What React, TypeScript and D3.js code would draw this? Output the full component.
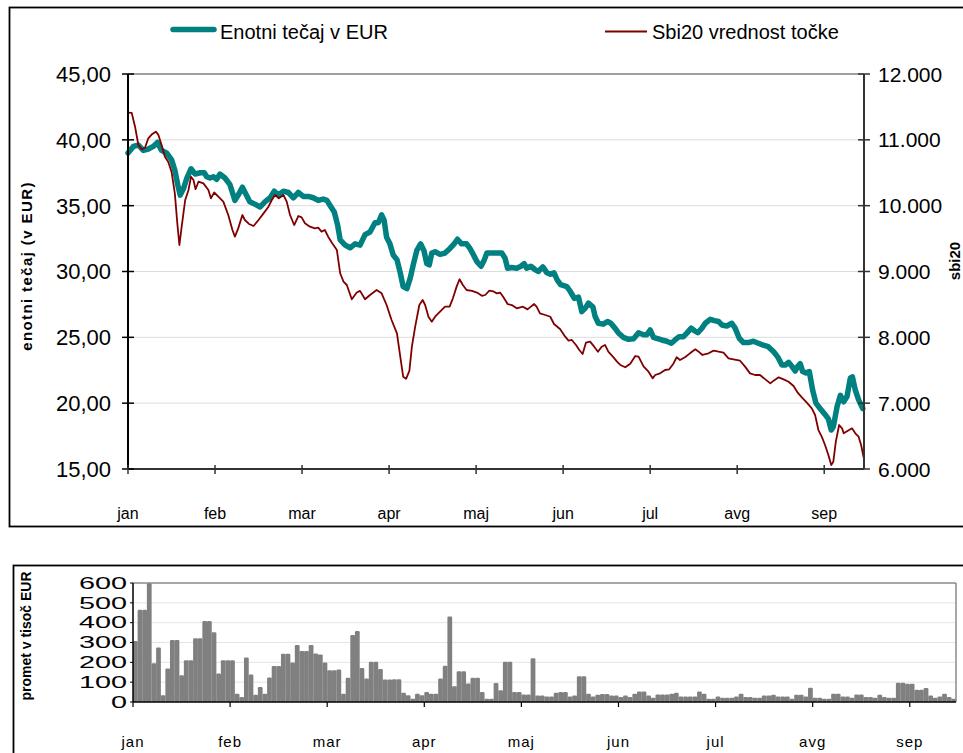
import React from 'react';
import * as d3 from 'd3';

// month labels, 21 trading days per month
const months = ['jan', 'feb', 'mar', 'apr', 'maj', 'jun', 'jul', 'avg', 'sep'];
const daysPerMonth = 21;

// [trading day, value]
const enotniTecaj: [number, number][] = [
  [0, 39.0], [1.3, 39.5], [2.5, 39.6], [3.7, 39.2], [4.9, 39.3], [6.1, 39.5], [7.1, 39.8], [8.1, 39.2],
  [9.3, 39.0], [10.5, 38.5], [11.3, 37.7], [12.0, 36.6], [12.6, 35.8], [13.4, 36.3], [14.2, 37.1], [15.2, 37.8],
  [16.2, 37.4], [17.4, 37.5], [18.4, 37.5], [19.0, 37.2], [19.8, 37.1], [20.6, 37.2], [21.4, 37.0], [22.2, 37.4],
  [23.4, 37.1], [24.6, 36.6], [25.8, 35.4], [26.6, 35.8], [27.6, 36.4], [28.4, 35.9], [29.4, 35.3], [30.7, 35.1],
  [31.9, 34.9], [33.1, 35.3], [34.3, 35.6], [35.3, 36.1], [36.3, 35.8], [37.5, 36.1], [38.7, 36.0], [39.9, 35.6],
  [41.1, 36.0], [42.3, 35.7], [43.5, 35.7], [44.7, 35.6], [45.9, 35.4], [47.1, 35.5], [48.0, 35.4], [48.8, 35.0],
  [49.8, 34.5], [50.6, 33.5], [51.2, 32.4], [52.4, 32.0], [53.6, 31.8], [54.8, 32.1], [56.0, 32.0], [57.2, 32.8],
  [58.4, 33.0], [59.6, 33.7], [60.4, 33.7], [61.2, 34.3], [61.8, 33.9], [62.4, 32.6], [63.2, 32.1], [64.0, 31.25],
  [64.9, 30.9], [65.7, 29.9], [66.4, 28.85], [67.3, 28.7], [68.1, 29.5], [68.9, 30.6], [69.7, 31.6], [70.6, 32.1],
  [71.4, 31.6], [72.1, 30.6], [72.7, 30.5], [73.3, 31.4], [74.1, 31.5], [75.3, 31.3], [76.5, 31.4], [77.7, 31.75],
  [78.7, 32.1], [79.5, 32.45], [80.5, 32.1], [81.7, 32.1], [82.5, 31.75], [83.3, 31.3], [84.2, 30.75], [85.2, 30.4],
  [86.0, 30.9], [86.6, 31.4], [87.8, 31.4], [89.0, 31.4], [90.2, 31.4], [91.0, 31.0], [91.6, 30.25], [92.6, 30.3],
  [93.8, 30.25], [94.8, 30.4], [95.6, 30.6], [96.2, 30.25], [97.2, 30.4], [98.2, 30.15], [99.0, 30.0], [100.1, 30.35],
  [101.1, 29.9], [101.9, 29.8], [102.8, 29.9], [103.6, 29.35], [104.4, 29.0], [105.9, 28.85], [106.7, 28.5], [107.7, 27.96],
  [108.7, 28.05], [109.5, 26.95], [110.3, 27.2], [111.1, 27.6], [112.2, 27.3], [112.7, 26.6], [113.5, 26.07], [114.7, 26.0],
  [115.7, 26.2], [116.5, 26.07], [117.5, 25.7], [118.3, 25.35], [119.5, 25.0], [120.8, 24.85], [122.0, 24.9], [123.2, 25.35],
  [124.4, 25.2], [125.2, 25.2], [126.0, 25.56], [126.8, 25.0], [127.8, 24.9], [128.8, 24.8], [130.0, 24.7], [131.1, 24.55],
  [132.0, 24.8], [133.0, 25.05], [134.0, 25.05], [134.8, 25.3], [135.9, 25.7], [136.7, 25.5], [137.5, 25.35], [138.5, 25.7],
  [139.3, 26.07], [140.5, 26.37], [141.5, 26.27], [142.5, 26.2], [143.3, 25.94], [144.5, 25.86], [145.7, 26.07], [146.5, 25.7],
  [147.5, 24.93], [148.5, 24.6], [149.7, 24.6], [150.9, 24.7], [152.1, 24.55], [153.3, 24.4], [154.5, 24.29], [155.8, 23.9],
  [156.8, 23.5], [157.8, 22.9], [158.6, 22.9], [159.4, 23.1], [160.2, 22.8], [161.0, 22.44], [161.6, 22.8], [162.2, 23.0],
  [162.8, 22.4], [163.6, 22.3], [164.4, 22.4], [165.2, 21.0], [166.0, 20.0], [167.0, 19.6], [168.1, 19.18], [169.0, 18.8],
  [169.7, 17.96], [170.2, 18.2], [171.1, 19.73], [171.9, 20.6], [172.7, 20.1], [173.5, 20.5], [174.3, 21.9], [174.8, 22.0],
  [175.5, 21.0], [176.3, 20.25], [177.3, 19.6],
];

const sbi20: [number, number][] = [
  [0, 11412], [0.9, 11410], [1.7, 11200], [2.5, 10921], [3.3, 10856], [4.1, 10880], [4.9, 11023], [5.7, 11080],
  [6.7, 11124], [7.3, 11080], [8.1, 10921], [8.9, 10744], [9.7, 10668], [10.5, 10516], [11.3, 10187], [11.9, 9732],
  [12.4, 9402], [13.0, 9706], [13.8, 10086], [14.6, 10238], [15.2, 10440], [15.8, 10390], [16.3, 10250], [17.0, 10364],
  [18.2, 10339], [19.4, 10238], [20.0, 10112], [20.8, 10200], [21.8, 10137], [23.0, 10061], [24.2, 9858], [25.2, 9630],
  [25.8, 9529], [26.6, 9655], [27.6, 9858], [28.2, 9782], [29.2, 9722], [30.3, 9691], [31.5, 9782], [32.7, 9883],
  [33.9, 9984], [34.7, 10086], [35.5, 10162], [36.4, 10112], [37.5, 10162], [38.3, 10061], [39.1, 9858], [40.1, 9706],
  [41.1, 9843], [41.9, 9823], [42.7, 9732], [43.9, 9681], [45.1, 9655], [45.9, 9666], [46.7, 9605], [47.5, 9630],
  [48.3, 9529], [49.2, 9437], [50.4, 9326], [51.2, 8973], [52.0, 8846], [52.8, 8795], [54.0, 8578], [55.2, 8680],
  [56.0, 8706], [57.2, 8578], [58.4, 8643], [60.0, 8719], [61.2, 8668], [62.4, 8491], [63.6, 8263], [64.9, 8061],
  [65.7, 7706], [66.4, 7402], [67.1, 7370], [67.9, 7490], [68.5, 7858], [69.3, 8162], [70.3, 8491], [71.1, 8567],
  [71.7, 8491], [72.5, 8313], [73.3, 8238], [74.1, 8313], [75.3, 8390], [76.5, 8466], [77.6, 8466], [78.4, 8593],
  [79.3, 8770], [80.0, 8882], [80.8, 8795], [81.7, 8719], [83.0, 8706], [84.2, 8680], [85.4, 8630], [86.2, 8643],
  [87.2, 8709], [88.2, 8697], [89.0, 8668], [89.8, 8680], [90.6, 8608], [91.6, 8506], [92.6, 8491], [93.8, 8440],
  [95.3, 8466], [96.4, 8425], [97.0, 8455], [98.0, 8506], [98.6, 8466], [99.4, 8365], [100.7, 8339], [101.9, 8313],
  [102.8, 8203], [104.3, 8122], [105.5, 8010], [106.3, 7950], [107.1, 7960], [108.1, 7884], [108.9, 7808], [109.7, 7747],
  [110.5, 7919], [111.5, 7934], [112.5, 7858], [113.4, 7782], [114.3, 7858], [115.1, 7884], [115.9, 7782], [117.0, 7706],
  [118.0, 7630], [118.8, 7580], [120.0, 7545], [121.2, 7600], [122.4, 7716], [123.2, 7706], [124.4, 7560], [125.6, 7478],
  [126.6, 7377], [127.2, 7428], [128.4, 7453], [129.6, 7504], [130.6, 7514], [131.6, 7600], [132.4, 7697], [133.2, 7656],
  [134.4, 7697], [135.6, 7757], [136.9, 7818], [137.7, 7782], [138.6, 7732], [140.1, 7757], [141.3, 7798], [142.5, 7782],
  [143.7, 7768], [144.9, 7681], [146.1, 7666], [147.7, 7645], [148.9, 7555], [150.1, 7453], [151.3, 7428], [152.5, 7428],
  [153.8, 7362], [155.0, 7301], [155.8, 7342], [157.0, 7392], [158.2, 7362], [159.4, 7326], [160.6, 7260], [161.6, 7159],
  [162.6, 7088], [163.8, 7008], [165.0, 6922], [165.8, 6820], [166.6, 6592], [167.4, 6491], [168.2, 6365], [169.0, 6213],
  [169.7, 6061], [170.2, 6111], [170.8, 6415], [171.6, 6668], [172.3, 6618], [172.7, 6542], [173.7, 6582], [174.7, 6618],
  [175.5, 6542], [176.3, 6491], [176.9, 6365], [177.5, 6178],
];

// daily turnover in thousand EUR
const promet: number[] = [
  308, 465, 465, 600, 195, 275, 34, 169, 313, 313, 135, 211, 211, 321, 321, 409, 409, 352, 144, 211,
  211, 210, 42, 25, 225, 139, 37, 76, 42, 123, 182, 182, 243, 243, 199, 287, 257, 257, 287, 245,
  240, 199, 160, 160, 164, 42, 122, 338, 358, 172, 118, 203, 203, 166, 113, 113, 115, 115, 47, 34,
  17, 41, 34, 51, 42, 42, 118, 183, 431, 80, 155, 155, 93, 122, 122, 51, 17, 17, 96, 59,
  203, 203, 50, 50, 38, 38, 220, 33, 33, 28, 28, 47, 50, 50, 28, 33, 130, 130, 42, 28,
  37, 40, 40, 33, 33, 25, 33, 25, 42, 53, 53, 33, 22, 38, 38, 38, 42, 47, 28, 28,
  28, 28, 53, 42, 17, 17, 28, 22, 22, 22, 28, 42, 25, 25, 22, 22, 33, 33, 37, 28,
  28, 28, 17, 37, 37, 28, 72, 22, 22, 17, 17, 42, 42, 28, 28, 22, 38, 38, 25, 25,
  22, 37, 25, 22, 22, 97, 97, 92, 92, 62, 62, 70, 33, 22, 28, 42, 25, 17,
];

const leftTicks = [15, 20, 25, 30, 35, 40, 45];
const rightTicks = [6000, 7000, 8000, 9000, 10000, 11000, 12000];
const prometTicks = [0, 100, 200, 300, 400, 500, 600];

const locale = d3.formatLocale({ decimal: ',', thousands: '.', grouping: [3], currency: ['', ''] });
const fmtLeft = locale.format(',.2f');
const fmtRight = locale.format(',.0f');

const FONT = '"Liberation Sans", Arial, sans-serif';
const TEAL = '#008080';
const RED = '#800000';

export default function App() {
  // top chart
  const x = d3.scaleLinear().domain([0, 177.6]).range([128, 864]);
  const yL = d3.scaleLinear().domain([15, 45]).range([469, 74]);
  const yR = d3.scaleLinear().domain([6000, 12000]).range([469, 74]);

  const tecajLine = d3.line<[number, number]>().x(d => x(d[0])).y(d => yL(d[1]));
  const sbiLine = d3.line<[number, number]>().x(d => x(d[0])).y(d => yR(d[1]));

  const monthIdx = months.map((m, i) => i * daysPerMonth);

  // bottom chart
  const xb = d3.scaleLinear().domain([0, promet.length]).range([133, 956]);
  const yb = d3.scaleLinear().domain([0, 600]).range([702, 583]);
  const bw = xb(1) - xb(0);

  return (
    <svg width={963} height={753} style={{ position: 'absolute', left: 0, top: 0, background: '#fff' }}
      fontFamily={FONT}>
      <rect x={0} y={0} width={963} height={753} fill="#fff" />

      {/* top chart frame */}
      <rect x={9.5} y={7.5} width={970} height={519} fill="none" stroke="#000" strokeWidth={1.8} />

      {/* legend */}
      <line x1={173} x2={214} y1={29.5} y2={29.5} stroke={TEAL} strokeWidth={5.5} strokeLinecap="round" />
      <text x={220} y={39} fontSize={20} fill="#000">Enotni tečaj v EUR</text>
      <line x1={605} x2={647} y1={31.5} y2={31.5} stroke={RED} strokeWidth={1.8} />
      <text x={652} y={39} fontSize={20} fill="#000">Sbi20 vrednost točke</text>

      {/* gridlines */}
      {leftTicks.slice(1, -1).map(t => (
        <line key={t} x1={128} x2={864} y1={yL(t)} y2={yL(t)} stroke="#dcdcdc" strokeWidth={1} />
      ))}
      <line x1={128} x2={864} y1={yL(45)} y2={yL(45)} stroke="#7f7f7f" strokeWidth={1.5} />

      {/* lines */}
      <path d={tecajLine(enotniTecaj) || ''} fill="none" stroke={TEAL} strokeWidth={5.5}
        strokeLinejoin="round" strokeLinecap="round" />
      <path d={sbiLine(sbi20) || ''} fill="none" stroke={RED} strokeWidth={1.8} strokeLinejoin="round" />

      {/* axes */}
      <line x1={128} x2={128} y1={74} y2={469} stroke="#000" strokeWidth={2} />
      <line x1={864} x2={864} y1={74} y2={469} stroke="#333" strokeWidth={2} />
      <line x1={128} x2={864} y1={469} y2={469} stroke="#333" strokeWidth={2} />
      {leftTicks.map(t => (
        <g key={t}>
          <line x1={122} x2={134} y1={yL(t)} y2={yL(t)} stroke="#000" strokeWidth={1.5} />
          <text x={111} y={yL(t)} dy="0.36em" textAnchor="end" fontSize={22}>{fmtLeft(t)}</text>
        </g>
      ))}
      {rightTicks.map(t => (
        <g key={t}>
          <line x1={858} x2={870} y1={yR(t)} y2={yR(t)} stroke="#333" strokeWidth={1.5} />
          <text x={878} y={yR(t)} dy="0.36em" textAnchor="start" fontSize={21}>{fmtRight(t)}</text>
        </g>
      ))}
      {monthIdx.map((d, i) => (
        <g key={months[i]}>
          <line x1={x(d)} x2={x(d)} y1={465} y2={474} stroke="#333" strokeWidth={1.5} />
          <text x={x(d)} y={519} textAnchor="middle" fontSize={16}>{months[i]}</text>
        </g>
      ))}
      <text transform="translate(32,266) rotate(-90)" textAnchor="middle" fontSize={15}
        fontWeight="bold" letterSpacing={1.4}>enotni tečaj  (v EUR)</text>
      <text transform="translate(960,261) rotate(-90)" textAnchor="middle" fontSize={15}
        fontWeight="bold">sbi20</text>

      {/* bottom chart frame */}
      <rect x={13.5} y={565.5} width={970} height={220} fill="none" stroke="#000" strokeWidth={1.8} />

      {prometTicks.slice(1, -1).map(t => (
        <line key={t} x1={133} x2={956} y1={yb(t)} y2={yb(t)} stroke="#e4e4e4" strokeWidth={1} />
      ))}

      {promet.map((v, i) => (
        <rect key={i} x={xb(i)} y={yb(v)} width={bw + 0.15} height={702 - yb(v)} fill="#808080" rx={1.2} />
      ))}

      <line x1={133} x2={956} y1={583} y2={583} stroke="#8a8a8a" strokeWidth={1.5} />
      <line x1={956} x2={956} y1={583} y2={702} stroke="#8a8a8a" strokeWidth={1.5} />
      <line x1={133} x2={133} y1={583} y2={702} stroke="#000" strokeWidth={1.5} />
      <line x1={133} x2={956} y1={702} y2={702} stroke="#000" strokeWidth={1.5} />

      {prometTicks.map(t => (
        <g key={t}>
          <line x1={130} x2={133} y1={yb(t)} y2={yb(t)} stroke="#000" strokeWidth={1} />
          <text transform={`translate(127,${yb(t)}) scale(1.8,1)`} dy="0.36em" textAnchor="end"
            fontSize={16}>{t}</text>
        </g>
      ))}
      {monthIdx.map((d, i) => (
        <g key={months[i]}>
          <line x1={xb(d)} x2={xb(d)} y1={702} y2={707} stroke="#000" strokeWidth={1.2} />
          <text x={xb(d)} y={747} textAnchor="middle" fontSize={15} letterSpacing={1}>{months[i]}</text>
        </g>
      ))}
      <text transform="translate(31,636) rotate(-90)" textAnchor="middle" fontSize={14}
        fontWeight="bold">promet v tisoč EUR</text>
    </svg>
  );
}
